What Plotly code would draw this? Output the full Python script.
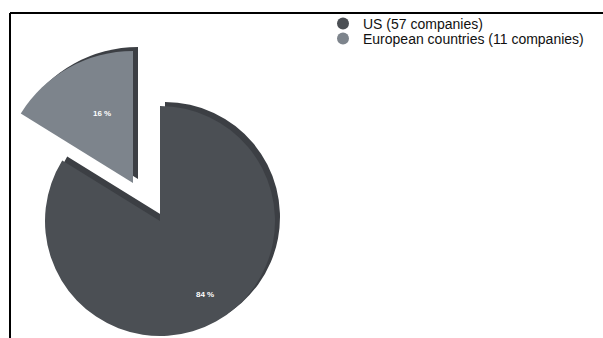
import math
import plotly.graph_objects as go

# ---- data ----
regions = ["US", "European countries"]
companies = [57, 11]
colors = ["#4b4f54", "#7d848c"]
depth_color = "#3c3f44"

W, H = 603, 338
total = sum(companies)
pct_labels = [f"{round(v / total * 100)} %" for v in companies]
legend_names = [f"{r} ({c} companies)" for r, c in zip(regions, companies)]


def dom(cx, cy, r):
    """pixel centre/radius -> paper domain"""
    return dict(x=[(cx - r) / W, (cx + r) / W],
                y=[1 - (cy + r) / H, 1 - (cy - r) / H])


CLEAR = "rgba(0,0,0,0)"
fig = go.Figure()

# slice geometry (pixels): US stays in place, Europe is exploded and drawn larger
geo = [(160, 221, 115), (133, 183, 132)]
label_frac = [0.8, 0.66]
depth_off = (5, -4)

# depth (side face) copies
for i in range(2):
    cx, cy, r = geo[i]
    cols = [CLEAR, CLEAR]
    cols[i] = depth_color
    fig.add_trace(go.Pie(
        values=companies, labels=regions, sort=False, direction="clockwise",
        rotation=0, marker=dict(colors=cols, line=dict(width=0)),
        textinfo="none", hoverinfo="skip", showlegend=False,
        domain=dom(cx + depth_off[0], cy + depth_off[1], r)))

# visible faces
for i in range(2):
    cx, cy, r = geo[i]
    cols = [CLEAR, CLEAR]
    cols[i] = colors[i]
    fig.add_trace(go.Pie(
        values=companies, labels=regions, sort=False, direction="clockwise",
        rotation=0, marker=dict(colors=cols, line=dict(width=0)),
        textinfo="none", hoverinfo="label+value+percent", showlegend=False,
        domain=dom(cx, cy, r)))

# percentage labels at each slice's mid-angle
annotations = []
start = 0.0
for i, v in enumerate(companies):
    frac = v / total
    mid = (start + frac / 2) * 2 * math.pi  # clockwise from 12 o'clock
    start += frac
    cx, cy, r = geo[i]
    px = cx + label_frac[i] * r * math.sin(mid)
    py = cy - label_frac[i] * r * math.cos(mid)
    annotations.append(dict(x=px / W, y=1 - py / H, xref="paper", yref="paper",
                            text=pct_labels[i], showarrow=False,
                            font=dict(color="white", size=8, family="Liberation Sans, Arial",
                                      weight="bold")))

# legend entries with circular markers (two legends for tight spacing)
legend_keys = ["legend", "legend2"]
for name, col, lk in zip(legend_names, colors, legend_keys):
    fig.add_trace(go.Scatter(x=[None], y=[None], mode="markers", name=name, legend=lk,
                             marker=dict(color=col, size=12, symbol="circle")))

leg_common = dict(x=323 / W, xanchor="left", yanchor="top", bgcolor="rgba(0,0,0,0)",
                  font=dict(family="Liberation Sans, Arial", size=14, color="#111"))

fig.update_layout(
    width=W, height=H, margin=dict(l=0, r=0, t=0, b=0),
    paper_bgcolor="white", plot_bgcolor="white",
    xaxis=dict(visible=False), yaxis=dict(visible=False),
    legend=dict(y=1 - 8 / H, **leg_common),
    legend2=dict(y=1 - 23 / H, **leg_common),
    annotations=annotations,
    shapes=[
        dict(type="line", xref="paper", yref="paper", x0=10 / W, x1=1, y0=1 - 13 / H, y1=1 - 13 / H,
             line=dict(color="black", width=2)),
        dict(type="line", xref="paper", yref="paper", x0=10 / W, x1=10 / W, y0=0, y1=1 - 13 / H,
             line=dict(color="black", width=2)),
    ],
)

fig.write_html("out.html")
